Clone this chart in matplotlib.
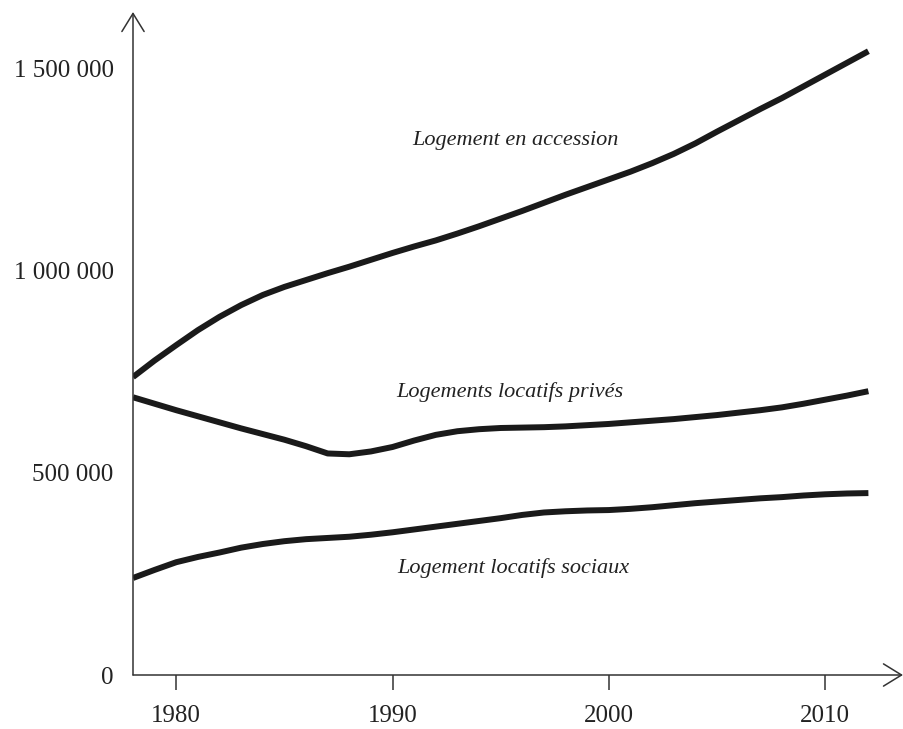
import matplotlib
matplotlib.use('Agg')
import matplotlib.pyplot as plt

# values (yearly, in dwellings)
years = list(range(1978, 2013))
accession = [737000, 778000, 816000, 853000, 886000, 915000, 940000, 960000, 977000,
             994000, 1010000, 1027000, 1044000, 1060000, 1075000, 1092000, 1110000,
             1129000, 1148000, 1168000, 1188000, 1207000, 1226000, 1245000, 1266000,
             1289000, 1315000, 1344000, 1372000, 1400000, 1427000, 1456000, 1485000,
             1514000, 1543000]
prives = [687000, 671000, 655000, 640000, 625000, 610000, 596000, 582000, 566000,
          548000, 546000, 553000, 564000, 580000, 594000, 603000, 608000, 611000,
          612000, 613000, 615000, 618000, 621000, 625000, 629000, 633000, 638000,
          643000, 649000, 655000, 662000, 671000, 681000, 691000, 702000]
sociaux = [240000, 260000, 279000, 292000, 303000, 315000, 324000, 331000, 336000,
           339000, 342000, 347000, 353000, 360000, 367000, 374000, 381000, 388000,
           396000, 402000, 405000, 407000, 408000, 411000, 415000, 420000, 425000,
           429000, 433000, 437000, 440000, 444000, 447000, 449000, 450000]

labels = ["Logement en accession", "Logements locatifs privés", "Logement locatifs sociaux"]
label_pos = [(1995.67, 1322000), (1995.44, 700000), (1995.58, 264000)]

x_ticks = [1980, 1990, 2000, 2010]
y_ticks = [0, 500000, 1000000, 1500000]
y_ticklabels = ["0", "500 000", "1 000 000", "1 500 000"]

X_MIN, X_MAX = 1978.0, 2013.6
Y_MIN, Y_MAX = 0, 1640000

plt.rcParams['font.family'] = ['Liberation Serif', 'DejaVu Serif']
TXT = '#222222'
AX = '#333333'

fig = plt.figure(figsize=(9.04, 7.29), dpi=100)
W, H = 904, 729
left, right, top, bottom = 133, 903, 12, 675
ax = fig.add_axes([left / W, (H - bottom) / H, (right - left) / W, (bottom - top) / H])
ax.set_xlim(X_MIN, X_MAX)
ax.set_ylim(Y_MIN, Y_MAX)

for s in ax.spines.values():
    s.set_visible(False)

for series in (accession, prives, sociaux):
    ax.plot(years, series, color='#1a1a1a', lw=4.3, solid_capstyle='butt',
            solid_joinstyle='round', zorder=3)

# axes drawn as arrows
arrow = dict(arrowstyle='->,head_length=0.65,head_width=0.4', lw=1.1, color=AX,
             shrinkA=0, shrinkB=0, mutation_scale=20)
ax.annotate('', xy=(X_MIN, Y_MAX), xytext=(X_MIN, Y_MIN), arrowprops=arrow,
            annotation_clip=False)
ax.annotate('', xy=(X_MAX, Y_MIN), xytext=(X_MIN, Y_MIN), arrowprops=arrow,
            annotation_clip=False)

ax.set_xticks(x_ticks)
ax.set_xticklabels([str(y) for y in x_ticks])
ax.set_yticks(y_ticks)
ax.set_yticklabels(y_ticklabels)
ax.tick_params(axis='x', direction='out', length=10.5, width=1.1, color=AX,
               labelsize=18, labelcolor=TXT, pad=11)
ax.tick_params(axis='y', length=0, labelsize=18, labelcolor=TXT, pad=14)

for lab, (lx, ly) in zip(labels, label_pos):
    ax.text(lx, ly, lab, ha='center', va='center', fontsize=16, style='italic',
            color=TXT)

fig.savefig('out.png', dpi=100, facecolor='white')
